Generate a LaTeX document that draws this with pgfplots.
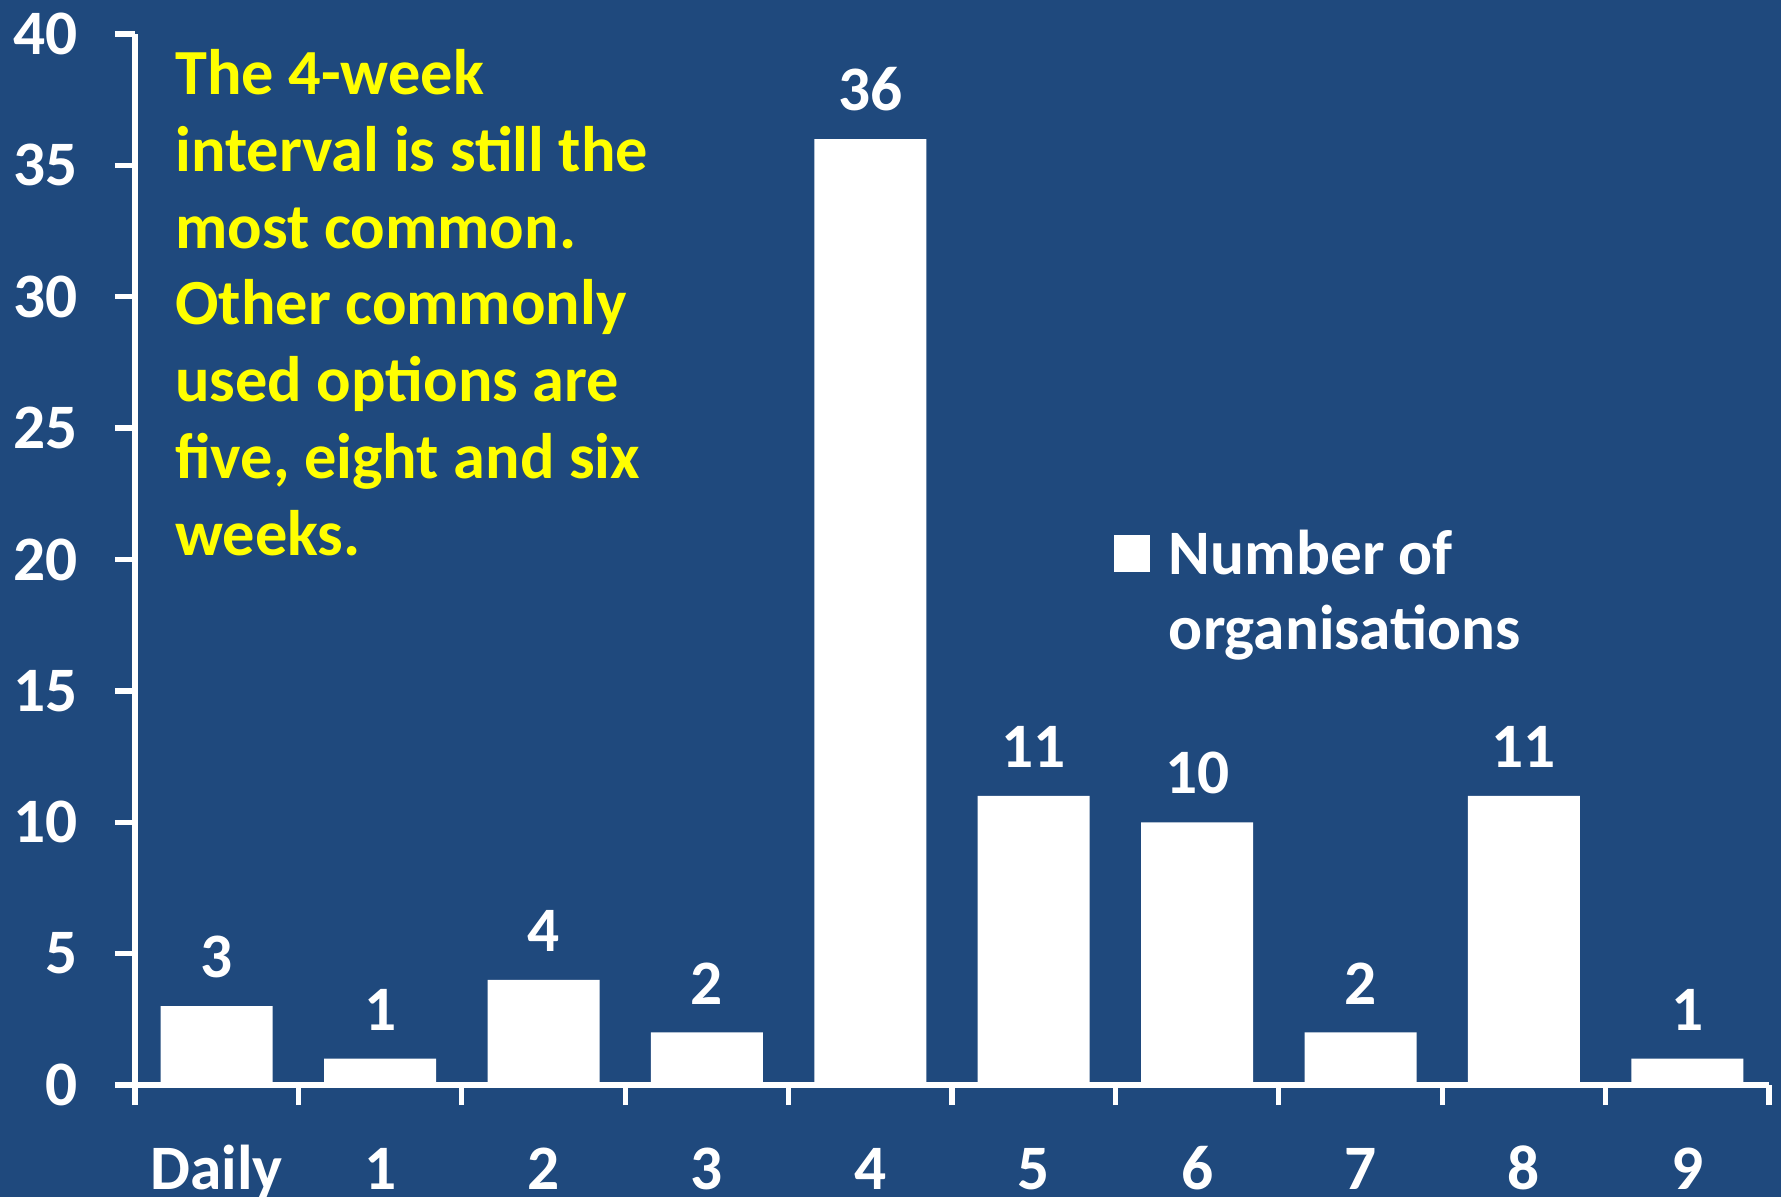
\documentclass[border=0pt]{standalone}
\usepackage{pgfplots}
\pgfplotsset{compat=1.18}
\usepackage{fontspec}
\setmainfont{Carlito}
\definecolor{bg}{HTML}{1F497D}
\definecolor{yel}{HTML}{FFFF00}
\begin{document}
\begin{tikzpicture}
\fill[bg] (-40.5pt,-33.6pt) rectangle (493.8pt,325.5pt);
\begin{axis}[
 at={(0,0)}, anchor=south west,
 scale only axis, width=490.2pt, height=315.3pt,
 xmin=-0.5, xmax=9.5, ymin=0, ymax=40,
 ybar, bar width=33.6pt,
 axis x line=bottom, axis y line=left,
 axis line style={-, white, line width=1.6pt},
 tick align=outside,
 major tick length=6pt, minor tick length=6pt,
 tick style={white, line width=1.6pt},
 xtick={0,...,9},
 xticklabels={Daily,1,2,3,4,5,6,7,8,9},
 major x tick style={draw=none},
 minor xtick={-0.5,0.5,...,9.5},
 ytick={0,5,...,40},
 /pgf/number format/assume math mode=true,
 ticklabel style={font=\fontsize{19}{23}\selectfont\bfseries, text=white},
 yticklabel style={xshift=-7.6pt},
 xticklabel style={anchor=base, yshift=-25.2pt},
 nodes near coords,
 every node near coord/.append style={font=\fontsize{19}{23}\selectfont\bfseries, text=white, yshift=5pt},
 legend style={at={(0.5985,0.535)}, anchor=north west, draw=none, fill=none, inner sep=0pt,
   font=\fontsize{19}{22.5}\selectfont\bfseries, text=white,
   cells={anchor=west, align=left}, column sep=3.6pt},
 legend image code/.code={\fill[white] (0pt,6.2pt) rectangle (11pt,17.2pt);},
]
\addplot[fill=white, draw=none] coordinates {(0,3) (1,1) (2,4) (3,2) (4,36) (5,11) (6,10) (7,2) (8,11) (9,1)};
\addlegendentry{Number of\\organisations}
\end{axis}
\begin{scope}[every node/.style={anchor=base west, text=yel, font=\fontsize{19.3}{23}\selectfont\bfseries, inner sep=0pt}]
\node at (11.9pt,297pt) {The 4-week};
\node at (11.9pt,274pt) {interval is still the};
\node at (11.9pt,251pt) {most common.};
\node at (11.9pt,228pt) {Other commonly};
\node at (11.9pt,205pt) {used options are};
\node at (11.9pt,182pt) {five, eight and six};
\node at (11.9pt,159pt) {weeks.};
\end{scope}
\pgfresetboundingbox
\path (-40.5pt,-33.6pt) rectangle (493.8pt,325.5pt);
\end{tikzpicture}
\end{document}
